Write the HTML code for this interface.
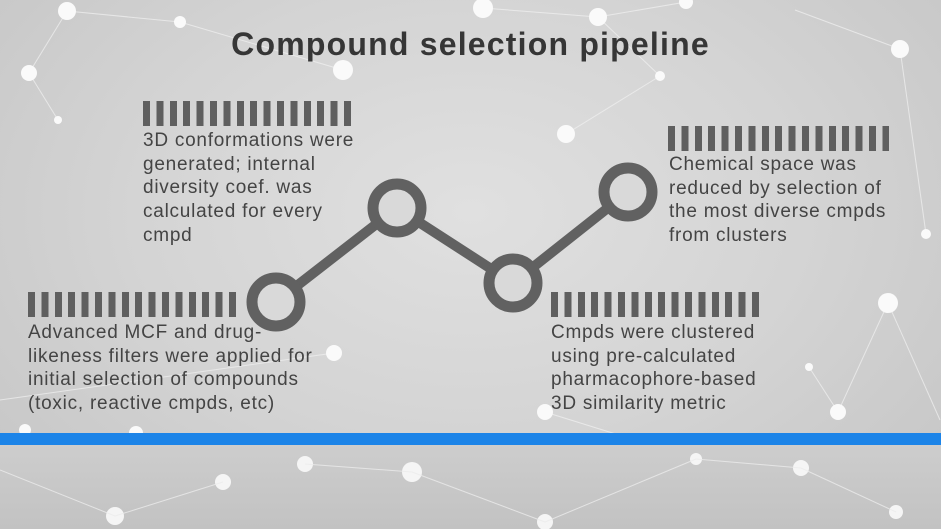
<!DOCTYPE html>
<html><head><meta charset="utf-8"><style>
html,body{margin:0;padding:0}
body{width:941px;height:529px;overflow:hidden;position:relative;font-family:"Liberation Sans",sans-serif;
background:radial-gradient(ellipse at 50% 40%,#e0e0e0 0%,#d4d4d4 50%,#c4c4c4 100%);}
.t{position:absolute;font-size:19px;line-height:23.7px;color:#444;white-space:nowrap;letter-spacing:0.75px}
.bars{position:absolute;height:25px;background:repeating-linear-gradient(90deg,#5f5f5f 0 7px,transparent 7px 13.4px)}
h1{position:absolute;left:0;width:941px;top:26px;margin:0;text-align:center;font-size:32px;font-weight:bold;color:#363636;letter-spacing:1.2px}
.blue{position:absolute;left:0;top:433px;width:941px;height:12px;background:#1c84e8}
.bottom{position:absolute;left:0;top:445px;width:941px;height:84px;background:linear-gradient(#cdcdcd,#c2c2c2)}
</style></head><body>
<svg width="941" height="529" style="position:absolute;left:0;top:0">
<g stroke="#f2f2f2" stroke-width="1" opacity="0.7">
<line x1="67" y1="11" x2="180" y2="22"/><line x1="180" y1="22" x2="343" y2="70"/><line x1="29" y1="73" x2="67" y2="11"/>
<line x1="29" y1="73" x2="58" y2="120"/><line x1="483" y1="8" x2="598" y2="17"/><line x1="598" y1="17" x2="660" y2="76"/>
<line x1="660" y1="76" x2="566" y2="134"/><line x1="598" y1="17" x2="686" y2="2"/><line x1="795" y1="10" x2="900" y2="49"/>
<line x1="900" y1="49" x2="926" y2="234"/><line x1="888" y1="303" x2="940" y2="420"/><line x1="888" y1="303" x2="838" y2="412"/>
<line x1="809" y1="367" x2="838" y2="412"/><line x1="0" y1="400" x2="334" y2="353"/><line x1="25" y1="430" x2="115" y2="516"/>
<line x1="136" y1="433" x2="115" y2="516"/><line x1="545" y1="412" x2="696" y2="459"/>
</g>
<g fill="#fafafa">
<circle cx="67" cy="11" r="9"/><circle cx="180" cy="22" r="6"/><circle cx="29" cy="73" r="8"/><circle cx="58" cy="120" r="4"/>
<circle cx="343" cy="70" r="10"/><circle cx="483" cy="8" r="10"/><circle cx="598" cy="17" r="9"/><circle cx="660" cy="76" r="5"/>
<circle cx="566" cy="134" r="9"/><circle cx="686" cy="2" r="7"/><circle cx="900" cy="49" r="9"/><circle cx="926" cy="234" r="5"/>
<circle cx="888" cy="303" r="10"/><circle cx="809" cy="367" r="4"/><circle cx="838" cy="412" r="8"/><circle cx="334" cy="353" r="8"/>
<circle cx="25" cy="430" r="6"/><circle cx="136" cy="433" r="7"/><circle cx="545" cy="412" r="8"/>
</g>
</svg>
<div class="bottom"></div>
<svg width="941" height="529" style="position:absolute;left:0;top:0">
<g fill="#f5f5f5"><circle cx="115" cy="516" r="9"/><circle cx="223" cy="482" r="8"/><circle cx="305" cy="464" r="8"/><circle cx="412" cy="472" r="10"/><circle cx="545" cy="522" r="8"/><circle cx="696" cy="459" r="6"/><circle cx="801" cy="468" r="8"/><circle cx="896" cy="512" r="7"/></g>
<g stroke="#ececec" stroke-width="1" opacity="0.8"><line x1="0" y1="470" x2="115" y2="516"/><line x1="223" y1="482" x2="115" y2="516"/><line x1="305" y1="464" x2="412" y2="472"/><line x1="412" y1="472" x2="545" y2="522"/><line x1="545" y1="522" x2="696" y2="459"/><line x1="801" y1="468" x2="896" y2="512"/><line x1="696" y1="459" x2="801" y2="468"/></g>
<polyline points="276,302 397,208 513,283 628,192" fill="none" stroke="#616161" stroke-width="10"/>
<g fill="#d9d9d9" stroke="#616161" stroke-width="11">
<circle cx="276" cy="302" r="24"/><circle cx="397" cy="208" r="24"/><circle cx="513" cy="283" r="24"/><circle cx="628" cy="192" r="24"/>
</g>
</svg>
<div class="blue"></div>
<h1>Compound selection pipeline</h1>
<div class="bars" style="left:143px;top:101px;width:208px"></div>
<div class="t" style="left:143px;top:129px">3D conformations were<br>generated; internal<br>diversity coef. was<br>calculated for every<br>cmpd</div>
<div class="bars" style="left:28px;top:292px;width:208px"></div>
<div class="t" style="left:28px;top:321px">Advanced MCF and drug-<br>likeness filters were applied for<br>initial selection of compounds<br>(toxic, reactive cmpds, etc)</div>
<div class="bars" style="left:668px;top:126px;width:221px"></div>
<div class="t" style="left:669px;top:153px">Chemical space was<br>reduced by selection of<br>the most diverse cmpds<br>from clusters</div>
<div class="bars" style="left:551px;top:292px;width:208px"></div>
<div class="t" style="left:551px;top:321px">Cmpds were clustered<br>using pre-calculated<br>pharmacophore-based<br>3D similarity metric</div>
</body></html>
